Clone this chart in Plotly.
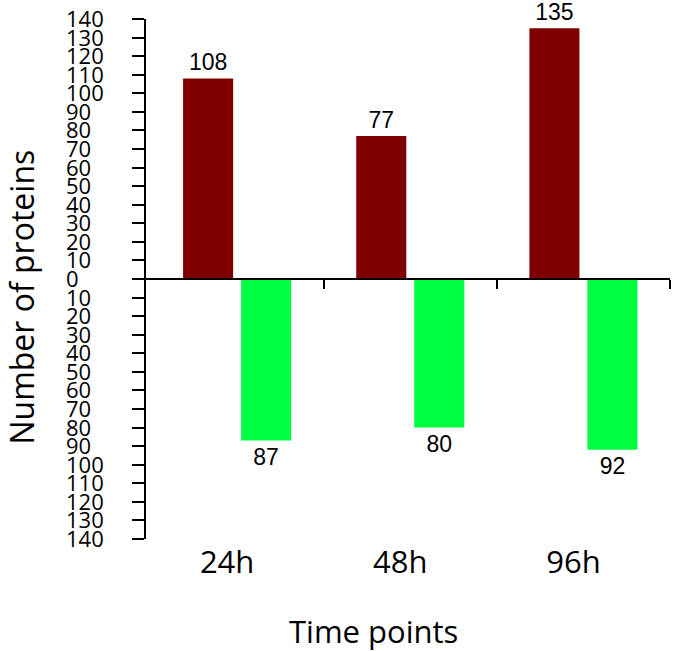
import plotly.graph_objects as go

categories = ["24h", "48h", "96h"]
up_values = [108, 77, 135]
down_values = [87, 80, 92]
tick_values = list(range(-140, 141, 10))
tick_labels = [str(abs(v)) for v in tick_values]

x_pos = list(range(len(categories)))
W, H = 700, 651
x0_px, x1_px = 145, 670
top_px, bot_px = 19, 539
xrange = [-0.532, 2.5]

fig = go.Figure()
fig.add_trace(go.Bar(
    x=x_pos, y=up_values, marker=dict(color="#800000", line=dict(width=0)),
    width=0.289, offset=-0.312, text=[str(v) for v in up_values],
    textposition="outside", cliponaxis=False,
    textfont=dict(family="Liberation Sans", size=23, color="#000"),
    xaxis="x", yaxis="y", showlegend=False, hoverinfo="skip"))
fig.add_trace(go.Bar(
    x=x_pos, y=[-v for v in down_values], marker=dict(color="#00FF40", line=dict(width=0)),
    width=0.289, offset=0.023, text=[str(v) for v in down_values],
    textposition="outside", cliponaxis=False,
    textfont=dict(family="Liberation Sans", size=23, color="#000"),
    xaxis="x2", yaxis="y", showlegend=False, hoverinfo="skip"))

for v, lab in zip(tick_values, tick_labels):
    fig.add_annotation(x=64 / W, xref="paper", xanchor="left", y=v, yref="y",
                       yanchor="middle", text=lab, showarrow=False, yshift=1,
                       font=dict(family="Open Sans", size=22, color="#000"))

fig.add_annotation(x=22 / W, xref="paper", y=-10, yref="y", text="Number of proteins",
                   textangle=-90, showarrow=False, xanchor="center", yanchor="middle",
                   font=dict(family="Open Sans", size=32, color="#000"))
plot_h = bot_px - top_px
fig.add_annotation(x=373.5 / W, xref="paper", y=(bot_px - 631) / plot_h,
                   yref="paper", yanchor="middle", text="Time points", showarrow=False,
                   font=dict(family="Open Sans", size=31, color="#000"))

fig.update_layout(
    width=W, height=H,
    margin=dict(l=0, r=0, t=top_px, b=H - bot_px),
    paper_bgcolor="white", plot_bgcolor="white",
    font=dict(family="Open Sans", color="#000"),
    barmode="overlay",
    xaxis=dict(domain=[x0_px / W, x1_px / W], range=xrange, anchor="free", position=0.5,
               showline=True, linecolor="#000", linewidth=2, ticks="outside",
               ticklen=9, tickwidth=2, tickcolor="#000", tickvals=[0.5, 1.5, 2.5],
               showticklabels=False, showgrid=False, zeroline=False),
    xaxis2=dict(overlaying="x", range=xrange, anchor="y", side="bottom",
                showline=False, ticks="", tickvals=x_pos, ticktext=categories,
                tickfont=dict(family="Open Sans", size=31, color="#000"),
                ticklabelshift=-10, ticklabelstandoff=2,
                showgrid=False, zeroline=False),
    yaxis=dict(range=[-140, 140], anchor="free", position=x0_px / W,
               showline=True, linecolor="#000", linewidth=2, ticks="outside",
               ticklen=12, tickwidth=2, tickcolor="#000", tickvals=tick_values,
               showticklabels=False, showgrid=False, zeroline=False),
)

fig.write_html("out.html", config={"displayModeBar": False},
               post_script="document.body.style.margin='0px';")
